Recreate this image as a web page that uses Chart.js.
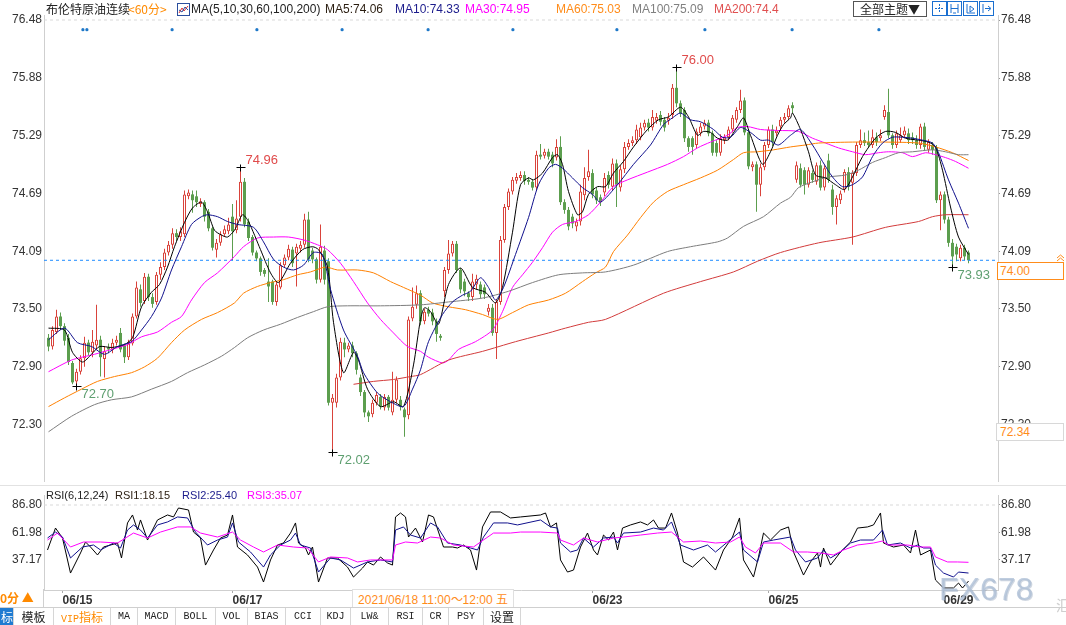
<!DOCTYPE html>
<html lang="zh-CN">
<head>
<meta charset="utf-8">
<title>布伦特原油连续 60分</title>
<script src="https://cdn.jsdelivr.net/npm/chart.js@4.4.1/dist/chart.umd.min.js"></script>
<style>
  html, body { margin: 0; padding: 0; }
  body { width: 1066px; height: 625px; overflow: hidden; background: #fff; position: relative;
         font-family: "Liberation Sans", Arial, sans-serif; font-size: 12px; color: #222; }
  canvas { position: absolute; left: 0; }
  .abs { position: absolute; white-space: nowrap; }
  .cjk { font-family: "Noto Sans CJK SC", sans-serif; }
  .hd { position: absolute; top: 2px; line-height: 14px; white-space: nowrap; }
  .rh { position: absolute; top: 488px; line-height: 14px; white-space: nowrap; font-size: 11px; }
  .tool { position: absolute; top: 608px; height: 17px; line-height: 17px; text-align: center;
          border-right: 1px solid #d6d6d6; font-family: "Liberation Mono", monospace; font-size: 10px; color: #222; }
  .tool.cjk { font-family: "Noto Sans CJK SC", sans-serif; font-size: 12px; }
  .ico { position: absolute; top: 1px; width: 13px; height: 13px; border: 1px solid #1a6fd0; }
</style>
</head>
<body>

<canvas id="price" width="1066" height="485" style="top:0"></canvas>
<canvas id="rsi" width="1066" height="122" style="top:485px"></canvas>

<!-- header -->
<span class="hd cjk" style="left:46px;color:#222">布伦特原油连续</span>
<span class="hd cjk" style="left:128px;color:#ff8a00">&lt;60分&gt;</span>
<svg class="abs" style="left:177px;top:3px" width="13" height="13">
  <rect x="0.5" y="0.5" width="12" height="12" fill="#fff" stroke="#2b4f9e"/>
  <polyline points="2,10 5,5 7,8 11,3" fill="none" stroke="#d33" stroke-width="1"/>
  <polyline points="2,7 5,9 8,4 11,7" fill="none" stroke="#2b4f9e" stroke-width="1"/>
</svg>
<span class="hd" style="left:191px;color:#222">MA(5,10,30,60,100,200)</span>
<span class="hd" style="left:325px;color:#2a1d10">MA5:74.06</span>
<span class="hd" style="left:395px;color:#1c1c8c">MA10:74.33</span>
<span class="hd" style="left:465px;color:#ff00ff">MA30:74.95</span>
<span class="hd" style="left:556px;color:#ff8c1a">MA60:75.03</span>
<span class="hd" style="left:632px;color:#808080">MA100:75.09</span>
<span class="hd" style="left:714px;color:#e05050">MA200:74.4</span>

<div class="abs cjk" style="left:853px;top:1px;width:72px;height:14px;border:1px solid #555;text-align:center;line-height:14px;font-size:12px">全部主题▼</div>
<div class="ico" style="left:932px"><svg width="13" height="13"><path d="M6.5 2v9M2 6.5h9" stroke="#1a6fd0" stroke-dasharray="2,1"/></svg></div>
<div class="ico" style="left:947px"><svg width="13" height="13"><path d="M3 2v9M10 2v9M3 6.5h7M5 11h3" stroke="#1a6fd0"/></svg></div>
<div class="ico" style="left:963px"><svg width="13" height="13"><path d="M3 2v9h8M6 4l4 3-4 3z" stroke="#1a6fd0" fill="none"/></svg></div>
<div class="ico" style="left:979px"><svg width="13" height="13"><path d="M3 2v9M5 6.5h5M8 4l3 2.5-3 2.5" stroke="#1a6fd0" fill="none"/></svg></div>

<!-- right price boxes -->
<div class="abs" style="left:997px;top:262px;border:1px solid #ff8c1a;background:#fff;color:#ff8c1a;font-size:12px;line-height:16px;padding-left:2px;box-sizing:border-box;width:67px;height:18px">74.00</div>
<svg class="abs" style="left:1056px;top:253px" width="9" height="9"><path d="M1 5l3.5-3 3.5 3M1 8l3.5-3 3.5 3" stroke="#ff8c1a" fill="none"/></svg>
<div class="abs" style="left:996px;top:423px;width:68px;height:18px;border:1px solid #d8d8d8;background:#fff;color:#ff8c1a;font-size:12px;line-height:16px;padding-left:3px;box-sizing:border-box">72.34</div>

<!-- separators -->
<div class="abs" style="left:0;top:485px;width:1066px;height:1px;background:#e2e2e2"></div>
<div class="abs" style="left:43px;top:589px;width:1px;height:18px;background:#d0d0d0"></div>

<!-- RSI header -->
<span class="rh" style="left:46px;color:#222">RSI(6,12,24)</span>
<span class="rh" style="left:115px;color:#2a1d10">RSI1:18.15</span>
<span class="rh" style="left:182px;color:#1c1c8c">RSI2:25.40</span>
<span class="rh" style="left:247px;color:#ff00ff">RSI3:35.07</span>

<!-- date row extras -->
<span class="abs cjk" style="left:0;top:591px;line-height:14px;color:#ff8a00;font-weight:bold;font-size:12px">0分 ▲</span>
<div class="abs" style="left:352px;top:589px;width:160px;height:17px;border:1px solid #e0e0e0;background:#fff;color:#ff8c1a;line-height:17px;font-size:12px;text-align:center">2021/06/18 11:00～12:00 <span class="cjk">五</span></div>

<!-- watermark -->
<div class="abs" style="left:939px;top:572px;font-size:32px;line-height:34px;color:rgba(175,193,215,0.8);text-shadow:1px 1px 0 rgba(120,140,170,0.35)">FX678</div>
<div class="abs cjk" style="left:1056px;top:597px;font-size:15px;line-height:16px;color:#cfcfcf">汇</div>

<!-- toolbar -->
<div class="abs" style="left:0;top:607px;width:1066px;height:1px;background:#cfcfcf"></div>
<div class="tool cjk" style="left:0;width:13px;background:#1f7bd1;color:#fff;text-align:right;overflow:hidden">标</div>
<div class="tool cjk" style="left:14px;width:39px">模板</div>
<div class="tool" style="left:54px;width:56px;color:#ff8a00"><span>VIP</span><span class="cjk" style="font-size:12px">指标</span></div>
<div class="tool" style="left:111px;width:26px">MA</div>
<div class="tool" style="left:138px;width:37px">MACD</div>
<div class="tool" style="left:176px;width:39px">BOLL</div>
<div class="tool" style="left:216px;width:31px">VOL</div>
<div class="tool" style="left:248px;width:37px">BIAS</div>
<div class="tool" style="left:286px;width:34px">CCI</div>
<div class="tool" style="left:321px;width:29px">KDJ</div>
<div class="tool" style="left:351px;width:37px">LW&amp;</div>
<div class="tool" style="left:389px;width:33px">RSI</div>
<div class="tool" style="left:423px;width:25px">CR</div>
<div class="tool" style="left:449px;width:34px">PSY</div>
<div class="tool cjk" style="left:484px;width:36px">设置</div>

<script>
// ---- 60-minute candles [open, high, low, close], grouped by trading day ----
const d0614 = [
  [73.20, 73.24, 73.06, 73.11], [73.11, 73.32, 73.08, 73.28], [73.26, 73.49, 73.24, 73.42], [73.42, 73.46, 73.28, 73.32],
];
const d0615 = [
  [73.32, 73.35, 73.12, 73.17], [73.20, 73.24, 72.92, 72.95], [72.94, 72.96, 72.72, 72.74], [72.75, 72.88, 72.70, 72.85],
  [72.85, 73.02, 72.82, 72.99], [72.99, 73.21, 72.90, 73.15], [73.15, 73.18, 73.02, 73.05], [73.05, 73.28, 73.00, 73.16],
  [73.12, 73.54, 73.08, 73.18], [73.18, 73.22, 72.80, 73.00], [72.98, 73.11, 72.79, 73.06], [73.10, 73.14, 73.04, 73.08],
  [73.08, 73.19, 73.04, 73.15], [73.15, 73.22, 73.12, 73.18], [73.25, 73.30, 73.05, 73.08], [73.12, 73.14, 72.94, 73.00],
  [73.00, 73.18, 72.97, 73.14], [73.14, 73.45, 73.12, 73.42], [73.42, 73.78, 73.40, 73.72], [73.70, 73.75, 73.52, 73.56],
  [73.58, 73.87, 73.55, 73.83],
];
const d0616 = [
  [73.83, 73.86, 73.58, 73.62], [73.62, 73.66, 73.51, 73.55], [73.57, 73.88, 73.54, 73.85], [73.85, 73.98, 73.80, 73.93],
  [73.93, 74.12, 73.90, 74.08], [74.08, 74.20, 74.05, 74.16], [74.16, 74.33, 74.12, 74.28], [74.28, 74.32, 74.20, 74.24],
  [74.24, 74.34, 74.20, 74.30], [74.27, 74.72, 74.24, 74.68], [74.66, 74.73, 74.63, 74.70], [74.68, 74.72, 74.49, 74.62],
  [74.66, 74.72, 74.55, 74.60], [74.58, 74.64, 74.55, 74.61], [74.60, 74.62, 74.40, 74.45], [74.50, 74.53, 74.30, 74.33],
  [74.33, 74.35, 74.10, 74.13], [74.11, 74.22, 74.03, 74.18], [74.18, 74.30, 74.15, 74.27], [74.27, 74.36, 74.24, 74.32],
  [74.30, 74.44, 74.27, 74.37],
];
const d0617 = [
  [74.45, 74.58, 74.00, 74.30], [74.31, 74.62, 74.28, 74.43], [74.45, 74.96, 74.40, 74.81], [74.81, 74.85, 74.34, 74.37],
  [74.40, 74.43, 74.20, 74.23], [74.24, 74.26, 74.05, 74.08], [74.08, 74.10, 73.99, 74.02], [74.02, 74.04, 73.84, 73.88],
  [73.90, 73.92, 73.83, 73.86], [73.78, 74.02, 73.57, 73.73], [73.78, 73.80, 73.54, 73.57], [73.57, 73.78, 73.53, 73.75],
  [73.72, 73.98, 73.70, 73.95], [73.95, 74.06, 73.92, 74.03], [74.03, 74.16, 74.00, 74.12], [74.11, 74.14, 73.93, 73.97],
  [74.07, 74.17, 73.73, 74.14], [74.12, 74.20, 74.08, 74.16], [74.16, 74.48, 74.13, 74.42], [74.42, 74.50, 73.98, 74.01],
  [74.10, 74.13, 73.97, 74.01], [74.01, 74.03, 73.76, 73.80],
];
const d0618 = [
  [73.80, 74.37, 73.77, 74.14], [74.10, 74.15, 73.75, 73.80], [73.99, 74.02, 72.50, 72.53], [72.53, 72.62, 72.02, 72.58],
  [72.53, 72.83, 72.48, 72.79], [72.79, 73.20, 72.76, 73.16], [73.15, 73.20, 73.00, 73.08], [73.08, 73.15, 73.05, 73.12],
  [73.12, 73.16, 73.00, 73.04], [73.04, 73.06, 72.82, 72.87], [72.79, 72.82, 72.60, 72.64], [72.64, 72.66, 72.38, 72.43],
  [72.43, 72.45, 72.33, 72.39], [72.41, 72.56, 72.38, 72.53], [72.53, 72.64, 72.50, 72.61], [72.59, 72.62, 72.46, 72.49],
  [72.48, 72.62, 72.45, 72.59], [72.59, 72.61, 72.45, 72.48], [72.43, 72.85, 72.40, 72.56], [72.56, 72.80, 72.53, 72.77],
  [72.56, 72.60, 72.45, 72.49], [72.46, 72.48, 72.18, 72.38],
];
const d0621 = [
  [72.40, 73.42, 72.36, 73.39], [73.40, 73.72, 73.37, 73.52], [73.54, 73.74, 73.50, 73.66], [73.66, 73.69, 73.33, 73.37],
  [73.37, 73.50, 73.34, 73.47], [73.49, 73.52, 73.42, 73.45], [73.46, 73.50, 73.33, 73.37], [73.37, 73.40, 73.16, 73.24],
  [73.22, 73.24, 73.17, 73.20], [73.68, 73.93, 73.62, 73.90], [73.90, 74.21, 73.86, 74.07], [74.07, 74.20, 74.04, 74.17],
  [74.17, 74.20, 73.87, 73.90], [73.90, 73.92, 73.66, 73.70], [73.78, 73.81, 73.63, 73.68], [73.66, 73.68, 73.58, 73.62],
  [73.62, 73.86, 73.58, 73.78], [73.75, 73.85, 73.70, 73.81], [73.75, 73.78, 73.61, 73.65], [73.72, 73.75, 73.60, 73.65],
  [73.47, 73.55, 73.43, 73.51], [73.51, 73.55, 73.22, 73.25], [73.25, 73.60, 72.98, 73.57],
];
const d0622 = [
  [73.57, 74.25, 73.54, 74.21], [74.21, 74.58, 74.18, 74.55], [74.55, 74.74, 74.52, 74.71], [74.71, 74.86, 74.68, 74.83],
  [74.82, 74.90, 74.79, 74.86], [74.85, 74.92, 74.82, 74.88], [74.88, 74.92, 74.78, 74.82], [74.83, 74.86, 74.78, 74.81],
  [74.81, 74.84, 74.72, 74.75], [74.75, 75.13, 74.72, 75.09], [75.09, 75.20, 75.04, 75.07], [75.08, 75.15, 75.05, 75.12],
  [75.12, 75.15, 75.04, 75.07], [75.09, 75.12, 74.96, 75.00], [75.06, 75.25, 75.03, 75.17], [75.17, 75.28, 74.57, 74.60],
  [74.60, 74.63, 74.48, 74.52], [74.52, 74.55, 74.31, 74.35], [74.45, 74.48, 74.33, 74.38], [74.35, 74.43, 74.30, 74.40],
  [74.40, 74.78, 74.36, 74.71], [74.67, 74.96, 74.62, 74.85], [74.86, 75.14, 74.82, 74.92],
];
const d0623 = [
  [74.90, 74.94, 74.64, 74.68], [74.72, 74.75, 74.58, 74.62], [74.65, 74.68, 74.56, 74.60], [74.70, 74.90, 74.66, 74.85],
  [74.88, 74.92, 74.74, 74.78], [74.76, 75.05, 74.72, 75.00], [75.00, 75.04, 74.55, 74.78], [74.75, 74.98, 74.71, 74.94],
  [74.94, 75.22, 74.90, 75.17], [75.17, 75.25, 75.14, 75.21], [75.21, 75.28, 75.18, 75.24], [75.24, 75.40, 75.20, 75.35],
  [75.27, 75.42, 75.24, 75.37], [75.37, 75.45, 75.34, 75.42], [75.42, 75.46, 75.33, 75.37], [75.37, 75.55, 75.34, 75.48],
  [75.44, 75.52, 75.41, 75.48], [75.50, 75.54, 75.39, 75.43], [75.45, 75.48, 75.33, 75.37], [75.44, 75.52, 75.40, 75.47],
  [75.50, 75.82, 75.46, 75.78], [75.78, 76.00, 75.58, 75.62],
];
const d0624 = [
  [75.62, 75.65, 75.48, 75.52], [75.55, 75.58, 75.22, 75.26], [75.26, 75.28, 75.12, 75.17], [75.26, 75.28, 75.09, 75.17],
  [75.19, 75.36, 75.16, 75.33], [75.31, 75.42, 75.28, 75.38], [75.38, 75.45, 75.35, 75.42], [75.42, 75.45, 75.28, 75.31],
  [75.31, 75.34, 75.08, 75.11], [75.21, 75.24, 75.07, 75.11], [75.11, 75.30, 75.08, 75.26], [75.24, 75.30, 75.20, 75.27],
  [75.27, 75.38, 75.24, 75.35], [75.35, 75.50, 75.32, 75.47], [75.45, 75.58, 75.42, 75.55], [75.55, 75.76, 75.52, 75.65],
  [75.65, 75.68, 75.29, 75.32], [75.32, 75.35, 74.94, 74.97], [74.96, 75.02, 74.92, 74.99], [74.99, 75.02, 74.50, 74.78],
  [74.78, 75.00, 74.66, 74.96], [74.96, 75.22, 74.93, 75.19],
];
const d0625 = [
  [75.19, 75.38, 75.16, 75.35], [75.35, 75.40, 75.18, 75.22], [75.31, 75.38, 75.28, 75.34], [75.38, 75.48, 75.34, 75.45],
  [75.45, 75.52, 75.42, 75.48], [75.48, 75.60, 75.45, 75.57], [75.60, 75.63, 75.52, 75.57], [74.83, 75.02, 74.80, 74.98],
  [74.95, 75.00, 74.75, 74.78], [74.93, 74.96, 74.68, 74.78], [74.78, 74.96, 74.75, 74.93], [74.90, 74.93, 74.80, 74.83],
  [74.81, 75.01, 74.78, 74.98], [74.98, 75.03, 74.72, 74.75], [74.75, 74.98, 74.72, 74.95], [75.03, 75.10, 74.80, 74.83],
  [74.73, 74.78, 74.47, 74.55], [74.55, 74.67, 74.37, 74.64], [74.62, 74.72, 74.58, 74.69], [74.73, 74.94, 74.70, 74.91],
  [74.91, 74.96, 74.72, 74.76], [74.80, 74.93, 74.16, 74.90],
];
const d0628 = [
  [74.90, 75.22, 74.87, 75.19], [75.19, 75.35, 75.16, 75.24], [75.24, 75.32, 75.18, 75.21], [75.22, 75.34, 75.16, 75.19],
  [75.19, 75.35, 75.16, 75.27], [75.27, 75.32, 75.18, 75.22], [75.26, 75.35, 75.23, 75.29], [75.48, 75.60, 75.45, 75.55],
  [75.53, 75.77, 75.26, 75.29], [75.29, 75.31, 75.15, 75.19], [75.19, 75.34, 75.16, 75.31], [75.24, 75.37, 75.21, 75.29],
  [75.29, 75.38, 75.26, 75.34], [75.31, 75.36, 75.20, 75.24], [75.27, 75.32, 75.20, 75.24], [75.24, 75.29, 75.15, 75.19],
  [75.19, 75.41, 75.15, 75.38], [75.38, 75.42, 75.13, 75.17], [75.14, 75.25, 75.11, 75.22], [75.19, 75.22, 75.09, 75.14],
  [75.16, 75.19, 74.59, 74.62], [74.62, 74.71, 74.31, 74.68],
];
const d0629 = [
  [74.68, 74.71, 74.38, 74.42], [74.42, 74.45, 74.14, 74.18], [74.18, 74.22, 73.93, 74.04], [74.14, 74.17, 73.99, 74.06],
  [74.02, 74.16, 73.99, 74.13], [74.13, 74.16, 74.00, 74.04], [74.08, 74.10, 73.97, 74.00],
];

// ---- moving averages as [candle index, price] ----
const ma5 = [[0,73.30],[4,73.28],[6,73.05],[8.5,72.95],[10.75,73.03],[12.75,73.11],[15.75,73.10],[19,73.13],[21,73.20],[23.25,73.52],
  [25.75,73.67],[27.75,73.75],[29.75,73.93],[31.5,74.14],[34,74.39],[36,74.54],[38.25,74.60],[39.75,74.50],[41.5,74.31],[43.25,74.26],
  [44.75,74.24],[46.5,74.31],[48.5,74.47],[50,74.40],[53,74.11],[55.5,73.87],[57.5,73.77],[60.5,73.97],[63.5,74.11],[66,74.14],
  [67.5,74.11],[69.75,73.93],[71.25,73.36],[73.75,72.84],[76.25,73.05],[77.5,72.97],[79.75,72.67],[83,72.49],[86.25,72.54],[88.75,72.49],
  [91.25,72.92],[93,73.39],[94,73.51],[95.5,73.47],[97.5,73.34],[100,73.75],[103,73.92],[106,73.72],[109.25,73.67],[111.75,73.56],
  [113.5,73.72],[116,74.29],[118,74.78],[120,74.85],[121.25,74.83],[123.5,74.90],[126,75.06],[127.25,75.09],[128.5,74.99],[130,74.71],
  [132.25,74.47],[133.5,74.50],[135,74.68],[137.25,74.76],[139.25,74.76],[141.25,74.90],[143.75,75.02],[146.25,75.17],[149.75,75.35],[152.5,75.45],
  [155,75.48],[158,75.58],[160,75.48],[162.25,75.29],[163.75,75.33],[165.5,75.32],[167.25,75.26],[169.75,75.24],[172.25,75.38],[173.75,75.47],
  [175.5,75.29],[178.5,74.99],[180.5,75.12],[182.25,75.29],[183.75,75.40],[185.5,75.47],[186,75.52],[188,75.35],[190,75.12],[191.75,74.88],
  [194.25,74.85],[196.75,74.78],[199,74.73],[201,74.86],[203.5,75.07],[206.75,75.26],[209.25,75.33],[211.75,75.32],[214.25,75.26],[217.5,75.24],
  [220,75.22],[221.75,75.17],[223.5,74.93],[225.5,74.55],[227.5,74.24],[230,74.06]];
const ma10 = [[0,73.18],[4,73.30],[7.25,73.15],[10.75,73.11],[14,73.03],[17.25,73.11],[20.75,73.16],[23.25,73.28],[25.75,73.42],[28.25,73.61],
  [30.75,73.90],[33.25,74.14],[35.75,74.37],[38.25,74.45],[39.75,74.47],[42.25,74.45],[44.75,74.40],[47.25,74.37],[51.25,74.34],[53.75,74.19],
  [56.25,74.01],[58.75,73.93],[61.25,73.90],[63.75,73.95],[66.25,74.08],[68.5,74.06],[70.5,73.70],[73.75,73.28],[77.25,73.01],[78.75,72.84],
  [82.25,72.63],[85.5,72.54],[88.75,72.49],[91,72.67],[93,72.87],[95,73.16],[98.5,73.44],[101,73.57],[103.5,73.64],[105.5,73.68],
  [108,73.82],[110,73.72],[111.75,73.59],[113.75,73.72],[116.75,74.06],[120,74.44],[122.5,74.78],[125,74.95],[126.75,74.99],[128.5,74.95],
  [131,74.85],[133.5,74.75],[136,74.68],[138,74.60],[142.25,74.78],[146.25,74.99],[150.5,75.19],[153.75,75.40],[156,75.47],[158,75.52],
  [160.5,75.45],[163,75.43],[166.25,75.35],[168.5,75.27],[170.5,75.27],[173,75.37],[175.5,75.32],[178,75.24],[180,75.24],[182.5,75.19],
  [185.5,75.29],[188,75.35],[191,75.19],[193.5,75.02],[196,74.86],[198.5,74.76],[201,74.78],[203.5,74.86],[206,75.07],[208.5,75.21],
  [211,75.27],[213.5,75.27],[216,75.26],[218.5,75.24],[221,75.21],[222.5,75.11],[225,74.83],[227.5,74.59],[230,74.33]];
const ma30 = [[0,72.85],[5.75,72.97],[11.5,73.03],[15.75,73.08],[19.75,73.13],[23.25,73.21],[27.25,73.26],[30.75,73.36],[33.25,73.42],[35.75,73.59],
  [39,73.77],[42.25,73.87],[46.5,74.04],[48.75,74.14],[52.25,74.23],[56.25,74.24],[60,74.24],[63.75,74.21],[67.25,74.16],[69.75,74.11],
  [73,73.97],[76.25,73.78],[79.75,73.56],[83,73.39],[86.25,73.25],[89.75,73.11],[93,73.06],[95,73.00],[98.5,72.94],[100,72.97],
  [102.5,73.08],[106.75,73.16],[111,73.28],[113.5,73.47],[116,73.72],[118.5,73.85],[121,73.98],[123.5,74.13],[126,74.29],[128.5,74.37],
  [131.75,74.40],[135,74.47],[138,74.60],[141.25,74.76],[144.75,74.83],[149.75,74.91],[154.75,74.99],[158.75,75.07],[162.25,75.16],[165.5,75.22],
  [169.75,75.29],[172.25,75.37],[174.75,75.38],[178,75.35],[182.25,75.34],[187.5,75.33],[191,75.26],[194.25,75.21],[197.5,75.16],[201,75.12],
  [204.25,75.09],[207.5,75.11],[210,75.12],[213.5,75.11],[216,75.07],[219.25,75.11],[221.75,75.09],[224.25,75.06],[226.75,75.02],[230,74.95]];
const ma60 = [[0,72.49],[4,72.58],[8.25,72.67],[12.25,72.75],[16.5,72.80],[20.75,72.84],[24,72.90],[27.25,72.99],[30.75,73.15],[34,73.28],
  [38.25,73.39],[42.25,73.46],[46.5,73.56],[48.75,73.66],[52.25,73.73],[55.5,73.77],[58.75,73.80],[62.25,73.85],[65.5,73.88],[69.25,73.93],
  [72.25,73.90],[77.25,73.90],[81.25,73.87],[85.5,73.78],[88.75,73.72],[93,73.64],[96,73.56],[100,73.52],[104.25,73.49],[108.5,73.44],
  [112.25,73.39],[116,73.46],[120,73.54],[125,73.59],[129.25,73.66],[133.5,73.78],[136.75,73.87],[139.25,73.93],[141.25,74.09],[144.75,74.26],
  [148,74.44],[151.25,74.60],[154.75,74.71],[158.75,74.78],[163,74.85],[167.25,74.93],[171.25,75.04],[173.75,75.11],[177.25,75.12],[181.25,75.14],
  [185.5,75.17],[189.25,75.19],[192.5,75.21],[201,75.22],[209.25,75.22],[217.5,75.21],[221.75,75.17],[226,75.11],[230,75.03]];
const ma100 = [[0,72.23],[5.75,72.39],[11.5,72.51],[15.75,72.56],[20.75,72.59],[25.75,72.67],[30.75,72.75],[34.75,72.84],[39,72.92],[43.25,73.01],
  [46.5,73.10],[49.75,73.20],[53.75,73.28],[58,73.34],[62.25,73.41],[66.25,73.47],[69.75,73.52],[74.75,73.53],[83,73.53],[93,73.54],
  [100,73.57],[108.5,73.61],[115,73.68],[121,73.77],[127.5,73.85],[133.5,73.87],[139.25,73.88],[146.25,73.95],[154.75,74.09],[160.5,74.14],
  [167.25,74.19],[169.75,74.23],[173.75,74.35],[178.75,74.45],[183,74.59],[185.5,74.65],[187.5,74.75],[191,74.81],[195,74.86],[199.25,74.88],
  [202.5,74.93],[206,75.01],[209.25,75.06],[212.5,75.11],[216,75.12],[221,75.14],[224.25,75.12],[227.5,75.09],[230,75.09]];
const ma200 = [[76.25,72.72],[81.25,72.75],[86.25,72.77],[90.5,72.80],[93,72.82],[100,72.97],[108.5,73.06],[116.75,73.16],[125,73.25],[129.25,73.30],
  [135,73.36],[139.25,73.39],[153.75,73.66],[163,73.78],[171.25,73.88],[177.25,73.99],[183,74.08],[192.5,74.18],[201,74.24],[209.25,74.34],
  [217.5,74.40],[221,74.45],[224.25,74.47],[230,74.47]];

// ---- RSI(6,12,24) as [candle index, value] ----
const rsi1 = [[-0.25,46.2],[1.75,66.0],[3.5,57.0],[5.5,25.4],[8,43.5],[9.25,53.4],[10.5,48.9],[12.25,41.7],[13.75,48.9],[17.25,52.5],
  [18.25,39.0],[19.75,70.6],[21,77.8],[22.25,64.2],[23,73.3],[24.75,55.2],[27.25,73.3],[29.75,77.8],[31.25,76.0],[32.5,84.1],
  [35,82.3],[36.25,62.4],[38,57.0],[39.25,32.6],[41.25,46.2],[43,57.0],[44.75,59.7],[46,77.8],[47.25,48.9],[49.75,41.7],
  [52.25,30.8],[53.75,17.3],[55.5,37.2],[57.25,50.7],[58.75,52.5],[60.5,61.5],[61.75,70.6],[62.5,52.5],[64.25,48.0],[65,41.7],
  [66,48.9],[67.5,17.3],[69.75,39.0],[72.25,39.0],[74.75,30.8],[76.25,21.8],[78.5,29.9],[79.75,35.4],[81.25,32.6],[83,39.9],
  [84.75,34.5],[86,32.6],[86.75,76.0],[88,79.6],[89.25,76.0],[90,57.9],[91.75,66.0],[93.5,53.4],[95,77.8],[96.25,76.0],
  [98.75,48.9],[101,48.9],[102.25,48.0],[103.75,50.7],[105.5,46.2],[107,28.1],[108.5,67.0],[110.5,80.5],[113,80.5],[115.5,75.1],
  [118,76.0],[123,77.8],[124.25,79.6],[125.5,67.0],[127,70.6],[128,37.2],[129.75,26.3],[131.25,28.1],[133,48.9],[134.75,61.5],
  [136.25,46.2],[137.25,41.7],[138.75,59.7],[140,55.2],[141.25,62.4],[142.25,46.2],[143.5,66.0],[145.5,68.8],[148,71.5],[149.75,68.8],
  [151.25,73.3],[152.5,66.0],[154.25,66.0],[155.75,79.6],[157.25,61.5],[158.75,35.4],[161,30.8],[163.75,39.9],[166.75,28.1],[168.75,46.2],
  [171,57.9],[172.75,75.1],[173.75,37.2],[176.25,21.8],[177.5,39.9],[178.75,61.5],[180.5,55.2],[183,64.2],[185,67.0],[186.25,44.4],
  [188.75,23.6],[190.5,35.4],[192.25,43.5],[193,30.8],[193.75,48.0],[195.5,32.6],[198,44.4],[200.5,53.4],[202.25,66.0],[204.75,67.0],
  [206.25,68.8],[208,79.6],[208.75,52.5],[211.25,48.9],[213.75,50.7],[215.5,43.5],[216.75,64.2],[218,41.7],[220.5,46.2],[221.75,19.1],
  [223.75,11.9],[226.25,11.9],[227.5,16.4],[228.5,11.9],[230,18.15]];
const rsi2 = [[-0.25,57.0],[1.75,62.4],[3.5,57.9],[5.5,39.0],[8.5,48.9],[11.25,50.7],[13,46.2],[16.25,52.5],[18,48.0],[19.75,64.2],
  [21.25,68.8],[23,64.2],[24.75,57.0],[27.25,68.8],[29.75,71.5],[32.25,76.0],[34.75,75.1],[36.75,62.4],[39.75,50.7],[42.25,55.2],
  [44.75,57.9],[46,70.6],[47.5,53.4],[50.5,44.4],[53.75,30.8],[55.5,41.7],[58,50.7],[60.5,55.2],[61.75,61.5],[63,50.7],
  [65.5,48.0],[67.5,26.3],[70.5,39.0],[73,37.2],[76.25,29.9],[79.75,35.4],[83,37.2],[86,35.4],[86.75,64.2],[88.75,67.0],
  [90.5,59.7],[93,57.0],[95.5,70.6],[97.25,67.0],[99.75,52.5],[103,50.7],[105.5,48.0],[107.25,46.2],[108.75,57.9],[111.25,70.6],
  [114.75,70.6],[117.25,68.8],[123,73.3],[125.5,67.0],[127.25,66.0],[128,52.5],[130.5,44.4],[132.25,46.2],[133.75,57.0],[136.25,48.9],
  [138.75,57.0],[141.25,57.9],[142.25,52.5],[143.75,61.5],[148,62.4],[151.25,66.0],[153.75,64.2],[155.75,71.5],[158,50.7],[161.25,46.2],
  [164.75,50.7],[166.75,44.4],[169.75,53.4],[172.75,62.4],[173.75,46.2],[177.25,35.4],[178.75,53.4],[181.25,55.2],[185.5,57.9],[186.75,46.2],
  [189.25,35.4],[192.25,39.0],[193.75,46.2],[195.5,39.0],[198,44.4],[200.5,52.5],[203,55.2],[206.25,55.2],[208.5,64.2],[209.75,50.7],
  [213,52.5],[215.5,48.0],[217.25,50.7],[218.75,48.0],[220.5,48.0],[221.75,32.6],[223.75,25.4],[226.25,21.8],[227.5,26.3],[230,25.4]];
const rsi3 = [[-0.25,55.2],[2.25,61.5],[5.5,48.9],[8.75,53.4],[13,53.4],[17.25,52.5],[21.25,61.5],[24.75,57.0],[28,62.4],[32.25,67.0],
  [35.5,67.0],[38,61.5],[42.25,57.9],[46,62.4],[48,55.2],[51.25,48.9],[53.75,44.4],[57.25,50.7],[61.25,48.9],[64.75,48.0],
  [67.5,35.4],[70.5,39.9],[74.75,39.0],[77.25,35.4],[80.5,37.2],[86,37.2],[86.75,50.7],[89.25,53.4],[92.25,52.5],[95.5,57.9],
  [98,57.0],[101.25,50.7],[106.25,48.9],[108,53.4],[111.25,61.5],[115.5,61.5],[118,62.4],[123,62.4],[127.25,61.5],[128,55.2],
  [131.25,50.7],[133.75,57.0],[137.25,53.4],[141.25,57.0],[143.75,57.9],[148,59.7],[152.25,61.5],[155.75,62.4],[158.75,53.4],[163,54.3],
  [166.75,52.5],[170.5,53.4],[172.75,57.9],[174.25,48.9],[176.75,43.5],[178.75,52.5],[183,52.5],[186.25,44.4],[189.75,44.4],[193,43.5],
  [196.25,41.7],[198.75,46.2],[202.25,50.7],[206.25,52.5],[208.5,54.3],[210,50.7],[214.75,50.7],[218,48.9],[220.5,48.9],[221.75,39.9],
  [224.75,35.4],[227.25,35.4],[230,35.07]];

// ---- axes, marks and labels ----
const priceTicks = [76.48, 75.88, 75.29, 74.69, 74.09, 73.50, 72.90, 72.30];
const rsiTicks = [86.80, 61.98, 37.17];
const dateTicks = [3.5, 46, 136, 180, 223.75];
const dateLabels = ["06/15", "06/17", "06/23", "06/25", "06/29"];
const lastPrice = 74.00;
const eventIdx = [8.6, 9.6, 30.9, 52.1, 73.4, 94.9, 116.1, 142.1, 164.1, 185.9, 207.6];
const eventLevel = 76.38;
const extremes = [
  { i: 48, v: 74.96, high: true },
  { i: 157, v: 76.00, high: true },
  { i: 7, v: 72.70, high: false },
  { i: 71, v: 72.02, high: false },
  { i: 226, v: 73.93, high: false },
];

const candles = [].concat(d0614, d0615, d0616, d0617, d0618, d0621, d0622, d0623, d0624, d0625, d0628, d0629);

const RED = "#d9433b";
const GREEN = "#5c9e4e";
const X_MIN = -1.125;
const X_MAX = 237.375;
const tickFont = { family: '"Liberation Sans", Arial, sans-serif', size: 12 };

const upBody = [], downBody = [], upWick = [], downWick = [];
candles.forEach(([o, h, l, c], i) => {
  if (c >= o) {
    upBody.push({ x: i, y: [o, c] });
    upWick.push({ x: i, y: [l, h] });
  } else {
    downBody.push({ x: i, y: [o, c] });
    downWick.push({ x: i, y: [l, h] });
  }
});

const pts = (arr) => arr.map(([x, y]) => ({ x, y }));

function lineSet(data, color, order, extra) {
  return Object.assign({
    type: "line", data: pts(data), borderColor: color, borderWidth: 1,
    pointRadius: 0, tension: 0.25, order: order, fill: false,
  }, extra || {});
}

function hLine(value, color, dash, order) {
  return {
    type: "line", data: [{ x: X_MIN, y: value }, { x: X_MAX, y: value }],
    borderColor: color, borderWidth: 1, borderDash: dash, pointRadius: 0, order: order,
  };
}

function barSet(data, bg, border, thickness, order, bw) {
  return {
    type: "bar", data: data, backgroundColor: bg, borderColor: border, borderWidth: bw,
    borderSkipped: false, barThickness: thickness, grouped: false, minBarLength: 1,
    inflateAmount: 0, order: order,
  };
}

// no extra label padding, so the plot area keeps the exact pixel size
function noPad(s) {
  s.paddingTop = 0; s.paddingBottom = 0; s.paddingLeft = 0; s.paddingRight = 0;
}

function yAxis(position, ticksArr, min, max) {
  const left = position === "left";
  return {
    position: position, min: min, max: max,
    afterBuildTicks: (s) => { s.ticks = ticksArr.map((v) => ({ value: v })); },
    afterFit: (s) => { s.width = left ? 44 : 68; noPad(s); },
    ticks: { callback: (v) => Number(v).toFixed(2), font: tickFont, color: "#333", padding: left ? 2 : 1, autoSkip: false },
    grid: { drawOnChartArea: false, drawTicks: !left, tickLength: 2, color: "#999" },
    border: { display: true, color: "#cfcfcf" },
  };
}

// fit the value range so two tick values sit on the pixel rows where the reference shows them
function pinScale(chart, v1, p1, v2, p2) {
  const { top, bottom } = chart.chartArea;
  const k = (p2 - p1) / (v1 - v2);
  const max = v1 + (p1 - top) / k;
  const min = max - (bottom - top) / k;
  for (const id of ["y", "yR"]) {
    chart.options.scales[id].min = min;
    chart.options.scales[id].max = max;
  }
  chart.update();
}

const extremeLabels = {
  id: "extremeLabels",
  afterDatasetsDraw(chart) {
    const { ctx, scales: { x, y } } = chart;
    ctx.save();
    ctx.font = '13px "Liberation Sans", Arial, sans-serif';
    ctx.textBaseline = "middle";
    ctx.textAlign = "left";
    for (const e of extremes) {
      const px = Math.floor(x.getPixelForValue(e.i)) + 0.5;
      const py = Math.round(y.getPixelForValue(e.v)) + 0.5;
      ctx.strokeStyle = "#000";
      ctx.lineWidth = 1;
      ctx.beginPath();
      ctx.moveTo(px - 4, py); ctx.lineTo(px + 5, py);
      ctx.moveTo(px, py - 3); ctx.lineTo(px, py + 4);
      ctx.stroke();
      ctx.fillStyle = e.high ? "#e04b4b" : "#5e9f70";
      ctx.fillText(e.v.toFixed(2), px + 5, e.high ? py - 7 : py + 8);
    }
    ctx.restore();
  },
};

Chart.defaults.font.family = '"Liberation Sans", Arial, sans-serif';

const priceChart = new Chart(document.getElementById("price"), {
  type: "line",
  data: {
    datasets: [
      hLine(priceTicks[0], "#d9d9d9", [3, 3], 20),
      hLine(lastPrice, "#1e8cff", [3, 3], 3),
      barSet(upWick, RED, RED, 1, 12, 0),
      barSet(downWick, GREEN, GREEN, 1, 12, 0),
      barSet(upBody, "#ffffff", RED, 3, 10, 1),
      barSet(downBody, GREEN, GREEN, 3, 10, 0),
      lineSet(ma200, "#d23b3b", 2),
      lineSet(ma100, "#7d7d7d", 2),
      lineSet(ma60, "#ff8000", 2),
      lineSet(ma30, "#ff00ff", 2),
      lineSet(ma10, "#10108c", 1),
      lineSet(ma5, "#000000", 1),
      {
        type: "line", data: eventIdx.map((i) => ({ x: i, y: eventLevel })), showLine: false,
        pointRadius: 1.6, pointBackgroundColor: "#1f78c8", pointBorderWidth: 0, order: 1,
      },
    ],
  },
  options: {
    responsive: false, maintainAspectRatio: false, animation: false, devicePixelRatio: 1,
    layout: { padding: { top: 15, bottom: 2, left: 0, right: 0 } },
    plugins: { legend: { display: false }, tooltip: { enabled: false } },
    scales: {
      x: { type: "linear", min: X_MIN, max: X_MAX, offset: false, display: false },
      y: yAxis("left", priceTicks, 71.707, 76.5315),
      yR: yAxis("right", priceTicks, 71.707, 76.5315),
    },
  },
  plugins: [extremeLabels],
});
pinScale(priceChart, 76.48, 20, 72.30, 425);

const rsiChart = new Chart(document.getElementById("rsi"), {
  type: "line",
  data: {
    datasets: [
      hLine(rsiTicks[0], "#d9d9d9", [3, 3], 10),
      lineSet(rsi1, "#000000", 3, { tension: 0 }),
      lineSet(rsi2, "#10108c", 2, { tension: 0 }),
      lineSet(rsi3, "#ff00ff", 1, { tension: 0 }),
    ],
  },
  options: {
    responsive: false, maintainAspectRatio: false, animation: false, devicePixelRatio: 1,
    layout: { padding: { top: 10, bottom: 0, left: 0, right: 0 } },
    plugins: { legend: { display: false }, tooltip: { enabled: false } },
    scales: {
      x: {
        type: "linear", min: X_MIN, max: X_MAX, offset: false, position: "bottom",
        afterBuildTicks: (s) => { s.ticks = dateTicks.map((v) => ({ value: v })); },
        afterFit: (s) => { s.height = 17; noPad(s); },
        ticks: {
          callback: (v, i) => dateLabels[i], align: "start", autoSkip: false, maxRotation: 0,
          font: { family: tickFont.family, size: 12, weight: "bold" }, color: "#333", padding: 0,
        },
        grid: { drawOnChartArea: false, drawTicks: true, tickLength: 3, color: "#aaa" },
        border: { display: true, color: "#cfcfcf" },
      },
      y: yAxis("left", rsiTicks, 10.11, 95.82),
      yR: yAxis("right", rsiTicks, 10.11, 95.82),
    },
  },
});
pinScale(rsiChart, 86.80, 20, 37.17, 75);
</script>
</body>
</html>
